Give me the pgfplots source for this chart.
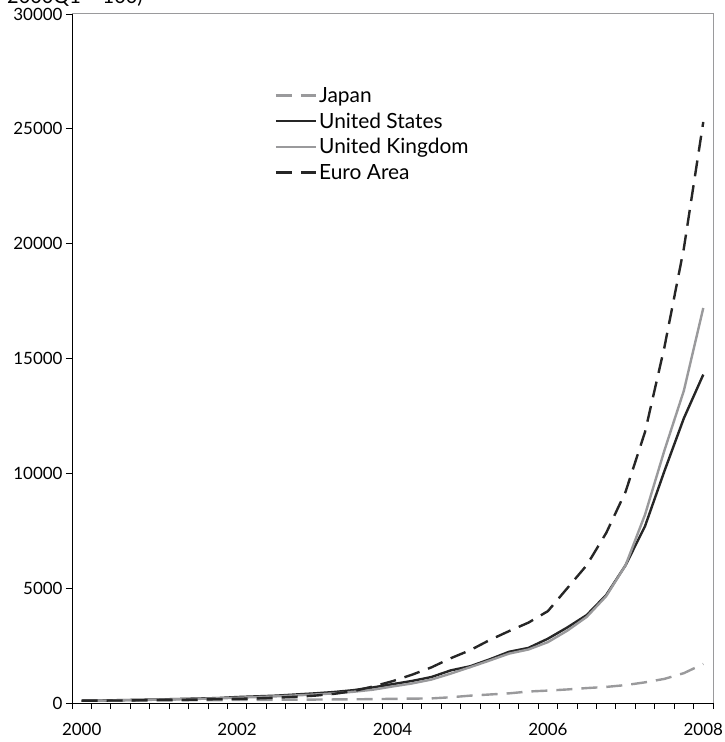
\documentclass[border=0pt]{standalone}
\usepackage{pgfplots}
\pgfplotsset{compat=1.18}
\usepackage{pgfplotstable}
\usepackage{fontspec}
\setmainfont{Lato}
\definecolor{dk}{HTML}{262626}
\definecolor{gr}{HTML}{9A9A9C}
\pgfplotstableread{
i jp us uk ea
0 100 100 100 100
1 100 110 105 105
2 105 125 115 110
3 105 140 130 120
4 110 155 145 130
5 115 175 160 140
6 120 195 180 150
7 125 215 200 165
8 130 260 230 180
9 135 290 260 200
10 140 320 290 230
11 145 370 330 270
12 150 420 370 320
13 155 480 420 400
14 160 560 490 520
15 170 680 580 720
16 180 820 720 950
17 190 960 850 1230
18 200 1130 1020 1550
19 250 1420 1280 1950
20 320 1600 1560 2300
21 370 1900 1850 2740
22 420 2230 2150 3130
23 500 2400 2330 3500
24 540 2800 2650 4000
25 590 3290 3150 5000
26 650 3830 3750 6000
27 700 4700 4650 7400
28 780 6000 6000 9200
29 900 7700 8200 11800
30 1050 10100 11000 15500
31 1300 12400 13600 19800
32 1700 14300 17200 25300
}\data
\begin{document}
\begin{tikzpicture}
\useasboundingbox (-72bp,-39bp) rectangle (653bp,703bp);
\begin{axis}[
  scale only axis, width=641bp, height=689bp,
  at={(0,0)}, anchor=south west,
  xmin=-0.5, xmax=32.5, ymin=0, ymax=30000,
  axis lines*=left,
  axis line style={black, line width=0.8bp},
  xtick={0,8,16,24,32},
  xticklabels={2000,2002,2004,2006,2008},
  minor xtick={-0.5,0.5,...,32.5},
  major x tick style={draw=none},
  minor tick length=6bp,
  ytick={0,5000,...,30000},
  scaled y ticks=false,
  major tick length=6bp,
  tick align=outside,
  tick style={black, line width=0.8bp},
  every tick label/.append style={font=\fontsize{17}{20}\selectfont},
  /pgf/number format/assume math mode=true,
  /pgf/number format/1000 sep={},
  xticklabel style={yshift=-11bp},
  clip=false,
  legend cell align=left,
  legend style={at={(rel axis cs:0.316,0.897)}, anchor=north west, draw=none, fill=none,
    font=\fontsize{21}{23}\selectfont, row sep=5bp, inner sep=0pt},
  legend image code/.code={\draw[#1] (0bp,0bp) -- (40bp,0bp);},
]
\addplot[gr, line width=2.4bp, dash pattern=on 16bp off 9bp] table[x=i,y=jp] {\data};
\addlegendentry{Japan}
\addplot[dk, line width=2.4bp] table[x=i,y=us] {\data};
\addlegendentry{United States}
\addplot[gr, line width=2.4bp] table[x=i,y=uk] {\data};
\addlegendentry{United Kingdom}
\addplot[dk, line width=2.4bp, dash pattern=on 16bp off 9bp] table[x=i,y=ea] {\data};
\addlegendentry{Euro Area}
\draw[gr, line width=1bp] (rel axis cs:0,1) -- (rel axis cs:1,1) -- (rel axis cs:1,0);
\end{axis}
\node[anchor=base west, font=\fontsize{20}{22}\selectfont, inner sep=0pt] at (-65bp,699bp) {2000Q1 = 100)};
\end{tikzpicture}
\end{document}
